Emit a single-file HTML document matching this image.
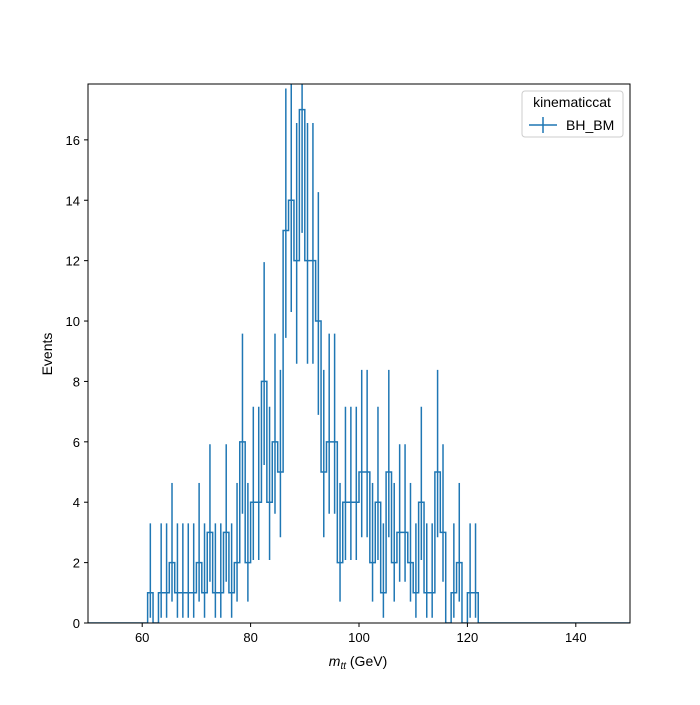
<!DOCTYPE html>
<html><head><meta charset="utf-8"><style>
body{margin:0;background:#fff;font-family:"Liberation Sans","DejaVu Sans",sans-serif}
svg text{font-family:"Liberation Sans","DejaVu Sans",sans-serif;fill:#000}
</style></head><body>
<svg id="chart" width="700" height="700" xmlns="http://www.w3.org/2000/svg">
<rect width="700" height="700" fill="#fff"/>
<g id="marks"></g>
<g id="axes"></g>
<g>
<rect x="522" y="91" width="101" height="46" rx="3" fill="#fff" stroke="#ccc" stroke-width="1"/>
<text x="572" y="107" font-size="14" text-anchor="middle">kinematiccat</text>
<g>
<line x1="529" y1="125" x2="557" y2="125" stroke="#1f77b4" stroke-width="1.5"/>
<line x1="543" y1="117" x2="543" y2="133" stroke="#1f77b4" stroke-width="1.5"/>
<text x="566" y="130" font-size="14">BH_BM</text>
</g>
</g>
<text x="358" y="666" font-size="14" text-anchor="middle"><tspan font-style="italic">m</tspan><tspan font-style="italic" font-size="10" dy="3">tt</tspan><tspan dy="-3"> (GeV)</tspan></text>
<text x="52" y="354" font-size="14" text-anchor="middle" transform="rotate(-90 52 354)">Events</text>
</svg>
<script>
const binStart = 61;
const counts = [1,0,1,1,2,1,1,1,1,2,1,3,1,1,3,1,2,6,2,4,4,8,4,6,5,13,14,12,17,12,12,10,5,6,6,2,4,4,4,5,5,2,4,1,5,2,3,3,2,1,4,1,1,5,3,0,1,2,0,1,1];
const xTicks = [60,80,100,120,140];
const yTicks = [0,2,4,6,8,10,12,14,16];
const errLow = [0,0.173,0.708,1.367,2.086,2.840,3.620,4.419,5.232,6.057,6.891,7.734,8.585,9.441,10.30,11.17,12.04,12.92];
const errHigh = [1.841,3.300,4.638,5.918,7.163,8.382,9.584,10.77,11.95,13.11,14.27,15.42,16.56,17.70,18.83,19.96,21.08,22.20];
const X0=88,X1=630,Y0=623,Y1=84,xmin=50,xmax=150,ymin=0,ymax=17.85;
const sx=v=>X0+(v-xmin)/(xmax-xmin)*(X1-X0);
const sy=v=>Y0-(v-ymin)/(ymax-ymin)*(Y0-Y1);
const NS='http://www.w3.org/2000/svg';
const marks=document.getElementById('marks'), axes=document.getElementById('axes');
const clip=document.createElementNS(NS,'clipPath');clip.id='pc';
const cr=document.createElementNS(NS,'rect');cr.setAttribute('x',X0);cr.setAttribute('y',Y1);cr.setAttribute('width',X1-X0);cr.setAttribute('height',Y0-Y1);
clip.appendChild(cr);document.getElementById('chart').appendChild(clip);
marks.setAttribute('clip-path','url(#pc)');
const valAt=b=>{const i=b-binStart;return (i>=0&&i<counts.length)?counts[i]:0;};
let d='M'+sx(xmin)+','+sy(0);
for(let b=xmin;b<xmax;b++){const v=valAt(b);d+=' L'+sx(b)+','+sy(v)+' L'+sx(b+1)+','+sy(v);}
const p=document.createElementNS(NS,'path');


p.setAttribute('d',d);p.setAttribute('fill','none');p.setAttribute('stroke','#1f77b4');p.setAttribute('stroke-width','1.5');
marks.appendChild(p);
counts.forEach((n,i)=>{
  if(n<=0)return;
  const c=binStart+i+0.5;
  const lo=errLow[Math.min(n,errLow.length-1)], hi=errHigh[Math.min(n,errHigh.length-1)];
  const l=document.createElementNS(NS,'line');
  
  
  l.setAttribute('x1',sx(c));l.setAttribute('x2',sx(c));l.setAttribute('y1',sy(lo));l.setAttribute('y2',sy(hi));
  l.setAttribute('stroke','#1f77b4');l.setAttribute('stroke-width','1.5');
  marks.appendChild(l);
});
const fr=document.createElementNS(NS,'rect');


fr.setAttribute('x',X0);fr.setAttribute('y',Y1);fr.setAttribute('width',X1-X0);fr.setAttribute('height',Y0-Y1);
fr.setAttribute('fill','none');fr.setAttribute('stroke','#000');fr.setAttribute('stroke-width','1');
axes.appendChild(fr);
xTicks.forEach(t=>{
  const l=document.createElementNS(NS,'line');
  
  
  l.setAttribute('x1',sx(t));l.setAttribute('x2',sx(t));l.setAttribute('y1',Y0);l.setAttribute('y2',Y0+4);l.setAttribute('stroke','#000');
  axes.appendChild(l);
  const tx=document.createElementNS(NS,'text');
  
  
  tx.setAttribute('x',sx(t));tx.setAttribute('y',Y0+19);tx.setAttribute('font-size','13');tx.setAttribute('text-anchor','middle');tx.textContent=t;
  axes.appendChild(tx);
});
yTicks.forEach(t=>{
  const l=document.createElementNS(NS,'line');
  
  
  l.setAttribute('x1',X0-4);l.setAttribute('x2',X0);l.setAttribute('y1',sy(t));l.setAttribute('y2',sy(t));l.setAttribute('stroke','#000');
  axes.appendChild(l);
  const tx=document.createElementNS(NS,'text');
  
  
  tx.setAttribute('x',X0-8);tx.setAttribute('y',sy(t)+5);tx.setAttribute('font-size','13');tx.setAttribute('text-anchor','end');tx.textContent=t;
  axes.appendChild(tx);
});
</script>
</body></html>
